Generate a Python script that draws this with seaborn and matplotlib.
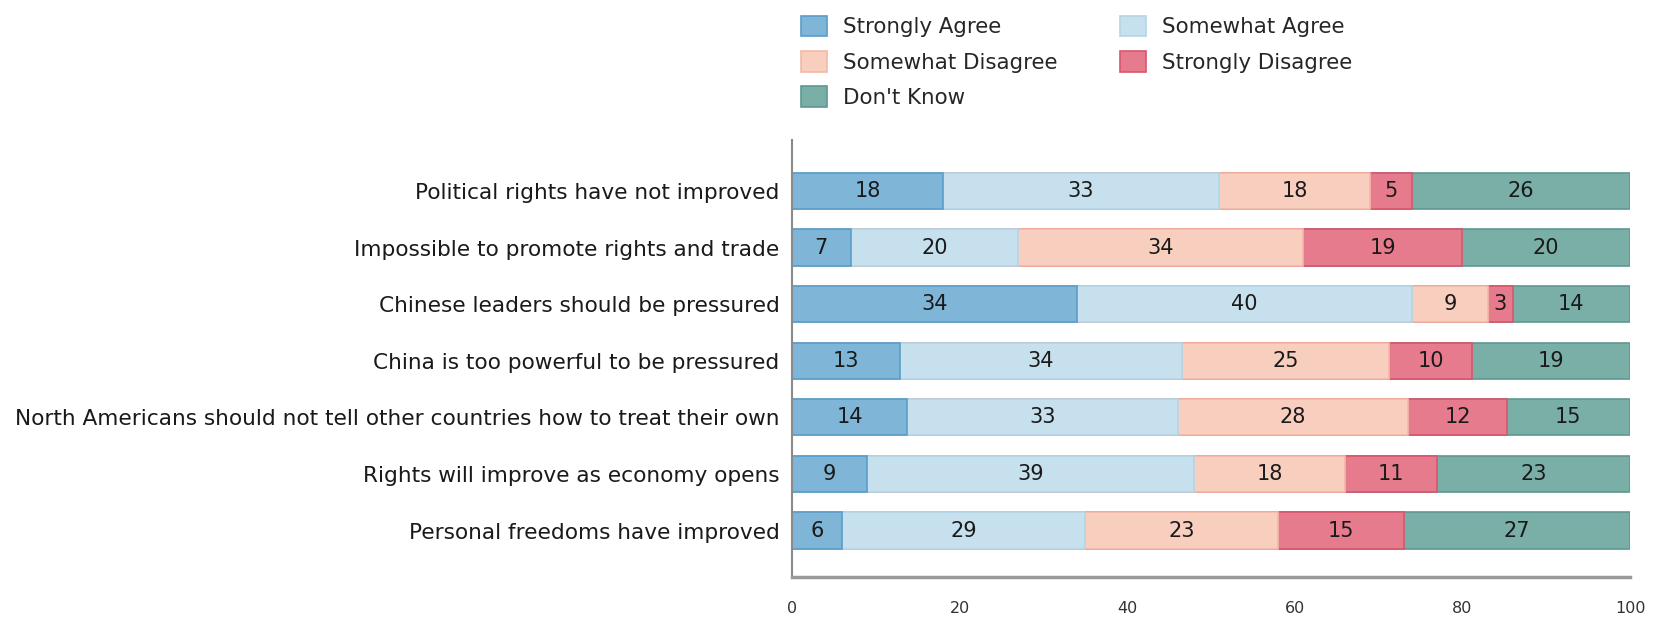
import matplotlib
matplotlib.use("Agg")
import matplotlib.pyplot as plt
import seaborn as sns
import numpy as np
import pandas as pd
from matplotlib.patches import Patch

categories = [
    "Political rights have not improved",
    "Impossible to promote rights and trade",
    "Chinese leaders should be pressured",
    "China is too powerful to be pressured",
    "North Americans should not tell other countries how to treat their own",
    "Rights will improve as economy opens",
    "Personal freedoms have improved",
]
series_names = ["Strongly Agree", "Somewhat Agree", "Somewhat Disagree",
                "Strongly Disagree", "Don't Know"]
strongly_agree = [18, 7, 34, 13, 14, 9, 6]
somewhat_agree = [33, 20, 40, 34, 33, 39, 29]
somewhat_disagree = [18, 34, 9, 25, 28, 18, 23]
strongly_disagree = [5, 19, 3, 10, 12, 11, 15]
dont_know = [26, 20, 14, 19, 15, 23, 27]
x_ticks = [0, 20, 40, 60, 80, 100]

fills = ["#7fb5d6", "#c7e0ed", "#f8cfbf", "#e57b8c", "#7aafa8"]
edges = ["#5a9cc8", "#b4d4e6", "#f3b9a6", "#d9566c", "#5e9890"]

sns.set_theme(style="white")
plt.rcParams["font.family"] = ["DejaVu Sans"]

raw = np.array([strongly_agree, somewhat_agree, somewhat_disagree,
                strongly_disagree, dont_know], dtype=float)
pct = raw / raw.sum(axis=0) * 100
cum = np.cumsum(pct, axis=0)

fig = plt.figure(figsize=(16.6, 6.18), dpi=100)
ax = fig.add_axes([792 / 1660, 1 - 577 / 618, (1630 - 792) / 1660, (577 - 140) / 618])

for i in range(len(series_names) - 1, -1, -1):
    df = pd.DataFrame({"cat": categories, "val": cum[i]})
    sns.barplot(data=df, y="cat", x="val", order=categories, orient="h",
                color=fills[i], saturation=1, width=0.64,
                edgecolor=edges[i], linewidth=1.2, ax=ax, zorder=2)

starts = cum - pct
for i in range(len(series_names)):
    for j in range(len(categories)):
        ax.text(starts[i, j] + pct[i, j] / 2, j, f"{int(raw[i, j])}",
                ha="center", va="center", fontsize=15, color="#1a1a1a", zorder=5)

ax.set_xlim(0, 100)
ax.set_ylim(6.82, -0.9)
ax.set_xticks(x_ticks)
ax.set_xticklabels([str(t) for t in x_ticks], fontsize=11.5, color="#333333")
ax.tick_params(axis="x", length=0, pad=17)
ax.tick_params(axis="y", length=0, pad=9, labelsize=15.6, labelcolor="#1a1a1a")
ax.set_xlabel("")
ax.set_ylabel("")
for s in ["top", "right"]:
    ax.spines[s].set_visible(False)
ax.spines["left"].set_color("#8a8a8a")
ax.spines["left"].set_linewidth(1.5)
ax.spines["bottom"].set_color("#9a9a9a")
ax.spines["bottom"].set_linewidth(2.5)

order = [0, 2, 4, 1, 3]  # row-major appearance in a 2-column legend
handles = [Patch(facecolor=fills[i], edgecolor=edges[i], linewidth=1.2,
                 label=series_names[i]) for i in order]
fig.legend(handles=handles, ncol=2, loc="upper left",
           bbox_to_anchor=(788 / 1660, 0.995), frameon=False, fontsize=15.4,
           handlelength=1.2, handleheight=1.1, handletextpad=0.75,
           columnspacing=2.95, labelspacing=0.64, borderaxespad=0.2)

fig.savefig("out.png", dpi=100)
